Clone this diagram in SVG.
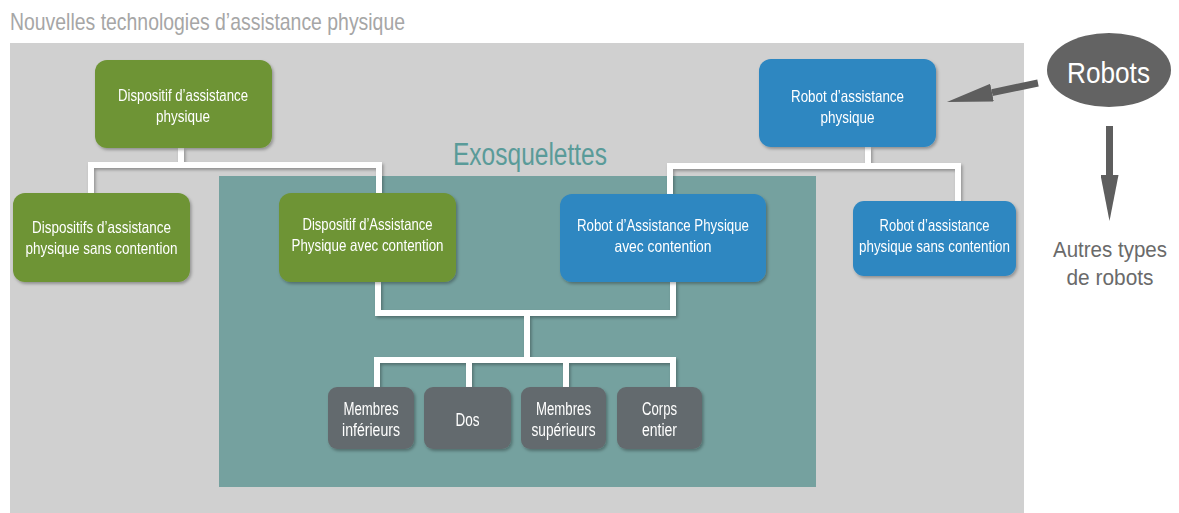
<svg xmlns="http://www.w3.org/2000/svg" width="1179" height="513" viewBox="0 0 1179 513">
<defs>
<style>
.t{font-family:"Liberation Sans Narrow","Liberation Sans",Arial,sans-serif;fill:#fff;text-anchor:middle;}
.n{font-size:16.5px;}
.g{font-size:18px;}
.green{fill:#6e9435;}
.blue{fill:#2e87c1;}
.grey{fill:#646b6e;}
.conn{fill:none;stroke:#fff;stroke-width:6;stroke-linejoin:miter;stroke-linecap:butt;}
.arr{fill:none;stroke:#5e5e5e;stroke-width:7;}
</style>
<filter id="sh" x="-10%" y="-10%" width="125%" height="130%">
<feDropShadow dx="1.5" dy="2" stdDeviation="1.5" flood-color="#000" flood-opacity="0.3"/>
</filter>
<marker id="ah" viewBox="0 0 46 18" markerWidth="46" markerHeight="18" refX="0" refY="9" orient="auto" markerUnits="userSpaceOnUse">
<path d="M0,0 L46,9 L0,18 Z" fill="#5e5e5e"/>
</marker>
</defs>
<rect width="1179" height="513" fill="#fff"/>
<text x="10" y="30" font-family="'Liberation Sans Narrow','Liberation Sans',Arial,sans-serif" font-size="24" fill="#a6a6a6" textLength="395" lengthAdjust="spacingAndGlyphs">Nouvelles technologies d’assistance physique</text>
<rect x="10" y="43" width="1014" height="470" fill="#d0d0d0"/>
<g id="exosquelettes">
<rect x="219" y="176" width="597" height="311" fill="#75a19f"/>
<text x="453" y="165" font-family="'Liberation Sans Narrow','Liberation Sans',Arial,sans-serif" font-size="31" fill="#5a9b99" textLength="154" lengthAdjust="spacingAndGlyphs">Exosquelettes</text>
</g>
<g id="connectors">
<g filter="url(#sh)">
<path class="conn" d="M181,148 V165 M91,193 V165 H379 V193"/>
<path class="conn" d="M868,147 V166 M670,194 V166 H958 V201"/>
<path class="conn" d="M378,282 V313 H673 V282 M527,313 V360 M377,387 V360 H673 V387 M469,360 V387 M566,360 V387"/>
</g>
<path class="arr" d="M1038,83 L992,92.6" marker-end="url(#ah)"/>
<path class="arr" d="M1109.5,126 V175" marker-end="url(#ah)"/>
</g>
<g id="n-dap" filter="url(#sh)">
<rect class="green" x="95" y="60" width="177" height="88" rx="12"/>
<text class="t n" x="183" y="101" textLength="130" lengthAdjust="spacingAndGlyphs">Dispositif d’assistance</text>
<text class="t n" x="183" y="122" textLength="54" lengthAdjust="spacingAndGlyphs">physique</text>
</g>
<g id="n-dap-sans" filter="url(#sh)">
<rect class="green" x="13" y="193" width="177" height="89" rx="12"/>
<text class="t n" x="101.5" y="233" textLength="139" lengthAdjust="spacingAndGlyphs">Dispositifs d’assistance</text>
<text class="t n" x="101.5" y="254" textLength="152" lengthAdjust="spacingAndGlyphs">physique sans contention</text>
</g>
<g id="n-dap-avec" filter="url(#sh)">
<rect class="green" x="279" y="193" width="177" height="89" rx="12"/>
<text class="t n" x="367.5" y="230" textLength="130" lengthAdjust="spacingAndGlyphs">Dispositif d’Assistance</text>
<text class="t n" x="367.5" y="251" textLength="152" lengthAdjust="spacingAndGlyphs">Physique avec contention</text>
</g>
<g id="n-rap" filter="url(#sh)">
<rect class="blue" x="759" y="59" width="177" height="88" rx="12"/>
<text class="t n" x="847.5" y="102" textLength="113" lengthAdjust="spacingAndGlyphs">Robot d’assistance</text>
<text class="t n" x="847.5" y="123" textLength="54" lengthAdjust="spacingAndGlyphs">physique</text>
</g>
<g id="n-rap-avec" filter="url(#sh)">
<rect class="blue" x="560" y="194" width="206" height="88" rx="12"/>
<text class="t n" x="663" y="231" textLength="172" lengthAdjust="spacingAndGlyphs">Robot d’Assistance Physique</text>
<text class="t n" x="663" y="252" textLength="97" lengthAdjust="spacingAndGlyphs">avec contention</text>
</g>
<g id="n-rap-sans" filter="url(#sh)">
<rect class="blue" x="853" y="201" width="163" height="75" rx="11"/>
<text class="t n" x="934.5" y="231" textLength="110" lengthAdjust="spacingAndGlyphs">Robot d’assistance</text>
<text class="t n" x="934.5" y="252" textLength="151" lengthAdjust="spacingAndGlyphs">physique sans contention</text>
</g>
<g id="n-inf" filter="url(#sh)">
<rect class="grey" x="328" y="387" width="86" height="62" rx="9"/>
<text class="t g" x="371" y="415" textLength="55" lengthAdjust="spacingAndGlyphs">Membres</text>
<text class="t g" x="371" y="436" textLength="58" lengthAdjust="spacingAndGlyphs">inférieurs</text>
</g>
<g id="n-dos" filter="url(#sh)">
<rect class="grey" x="424" y="387" width="87" height="62" rx="9"/>
<text class="t g" x="467.5" y="426" textLength="24" lengthAdjust="spacingAndGlyphs">Dos</text>
</g>
<g id="n-sup" filter="url(#sh)">
<rect class="grey" x="521" y="387" width="85" height="62" rx="9"/>
<text class="t g" x="563.5" y="415" textLength="55" lengthAdjust="spacingAndGlyphs">Membres</text>
<text class="t g" x="563.5" y="436" textLength="64" lengthAdjust="spacingAndGlyphs">supérieurs</text>
</g>
<g id="n-corps" filter="url(#sh)">
<rect class="grey" x="617" y="387" width="85" height="62" rx="9"/>
<text class="t g" x="659.5" y="415" textLength="35" lengthAdjust="spacingAndGlyphs">Corps</text>
<text class="t g" x="659.5" y="436" textLength="35" lengthAdjust="spacingAndGlyphs">entier</text>
</g>
<g id="n-robots">
<ellipse cx="1109" cy="70" rx="62" ry="37" fill="#636363"/>
<text class="t" x="1108.5" y="83" font-size="30" textLength="83" lengthAdjust="spacingAndGlyphs">Robots</text>
</g>
<g id="n-autres">
<text x="1110" y="257" font-family="'Liberation Sans Narrow','Liberation Sans',Arial,sans-serif" font-size="22" fill="#6a6a6a" text-anchor="middle" textLength="114" lengthAdjust="spacingAndGlyphs">Autres types</text>
<text x="1110" y="285" font-family="'Liberation Sans Narrow','Liberation Sans',Arial,sans-serif" font-size="22" fill="#6a6a6a" text-anchor="middle" textLength="87" lengthAdjust="spacingAndGlyphs">de robots</text>
</g>
</svg>
